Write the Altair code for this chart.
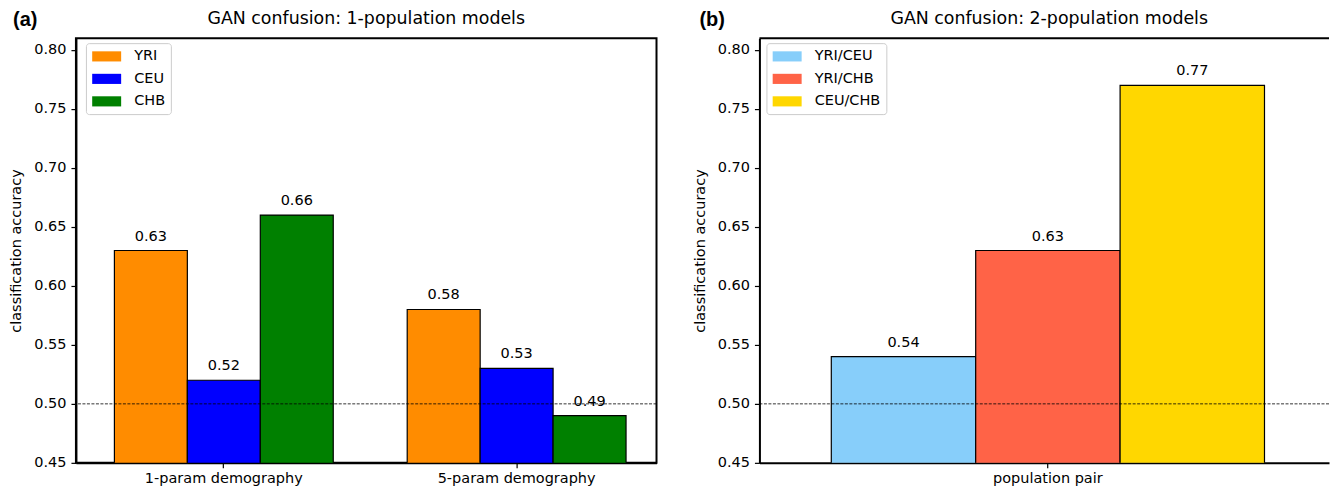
import altair as alt
import pandas as pd

FONT = "DejaVu Sans"

# ---- Panel (a): 1-population models ----
models = ["1-param demography", "5-param demography"]
pops = ["YRI", "CEU", "CHB"]
pop_colors = ["#FF8C00", "#0000FF", "#008000"]
acc_1param = [0.63, 0.52, 0.66]
acc_5param = [0.58, 0.53, 0.49]

# ---- Panel (b): 2-population models ----
pair_label = ["population pair"]
pairs = ["YRI/CEU", "YRI/CHB", "CEU/CHB"]
pair_colors = ["#87CEFA", "#FF6347", "#FFD700"]
acc_pairs = [0.54, 0.63, 0.77]

chance_level = [0.5]
y_domain = [0.45, 0.81]
y_ticks = [0.45, 0.50, 0.55, 0.60, 0.65, 0.70, 0.75, 0.80]

titles = ["GAN confusion: 1-population models", "GAN confusion: 2-population models"]
tags = ["(a)", "(b)"]

df_a = pd.DataFrame({
    "model": [models[0]] * 3 + [models[1]] * 3,
    "pop": pops * 2,
    "acc": acc_1param + acc_5param,
})
df_b = pd.DataFrame({
    "group": pair_label * 3,
    "pair": pairs,
    "acc": acc_pairs,
})
df_chance = pd.DataFrame({"chance": chance_level})

W_A, W_B, H = 581, 570, 425
FS = 14.5      # tick / label / legend font size
TFS = 17.4     # title font size

legend_shape = "M-2,-0.7H2V0.7H-2Z"


def make_legend(x):
    return alt.Legend(
        title=None, orient="none", legendX=x, legendY=5,
        symbolType=legend_shape, symbolSize=210, symbolOffset=7.5,
        symbolStrokeWidth=0, symbolOpacity=1,
        labelOffset=20, padding=5.75, rowPadding=7.5,
        labelFont=FONT, labelFontSize=FS, labelColor="black",
        strokeColor="#cccccc", fillColor="white", cornerRadius=3,
    )


def y_enc():
    return alt.Y(
        "acc:Q",
        scale=alt.Scale(domain=y_domain, zero=False, nice=False),
        axis=alt.Axis(values=y_ticks, format=".2f", title="classification accuracy", grid=False),
    )


def x_axis():
    return alt.Axis(title=None, labelAngle=0)


def head_layers(tag, tag_x, title, title_x):
    tag_l = alt.Chart(pd.DataFrame({"tag": [tag]})).mark_text(
        align="left", baseline="alphabetic", fontSize=20, fontWeight="bold",
        font="Liberation Sans", color="black",
    ).encode(x=alt.value(tag_x), y=alt.value(-12), text="tag:N")
    title_l = alt.Chart(pd.DataFrame({"title": [title]})).mark_text(
        align="center", baseline="alphabetic", fontSize=TFS, font=FONT, color="black",
    ).encode(x=alt.value(title_x), y=alt.value(-14), text="title:N")
    return [tag_l, title_l]


def chance_layer():
    return alt.Chart(df_chance).mark_rule(
        color="black", strokeDash=[3, 1.5], strokeWidth=0.8
    ).encode(y=alt.Y("chance:Q"))


# ---- Left chart ----
xa = alt.X("model:N", sort=models,
           scale=alt.Scale(domain=models, paddingInner=0.2526, paddingOuter=0.1177, align=0.558),
           axis=x_axis())
xoa = alt.XOffset("pop:N", sort=pops, scale=alt.Scale(domain=pops, paddingInner=0, paddingOuter=0))

bars_a = alt.Chart(df_a).mark_bar(stroke="black", strokeWidth=1.2, clip=True).encode(
    x=xa, xOffset=xoa, y=y_enc(),
    color=alt.Color("pop:N", sort=pops, scale=alt.Scale(domain=pops, range=pop_colors),
                    legend=make_legend(10)),
)
text_a = alt.Chart(df_a).mark_text(baseline="bottom", dy=-7, fontSize=FS, font=FONT, color="black").encode(
    x=xa, xOffset=xoa, y=y_enc(), text=alt.Text("acc:Q", format=".2f"),
)
left = alt.layer(bars_a, chance_layer(), text_a, *head_layers(tags[0], -63, titles[0], W_A / 2)).properties(
    width=W_A, height=H,
    view=alt.ViewBackground(stroke="black", strokeWidth=2),
)

# ---- Right chart ----
xb = alt.X("group:N", scale=alt.Scale(domain=pair_label, paddingInner=0, paddingOuter=0.1574, align=0.527),
           axis=x_axis())
xob = alt.XOffset("pair:N", sort=pairs, scale=alt.Scale(domain=pairs, paddingInner=0, paddingOuter=0))

bars_b = alt.Chart(df_b).mark_bar(stroke="black", strokeWidth=1.2, clip=True).encode(
    x=xb, xOffset=xob, y=y_enc(),
    color=alt.Color("pair:N", sort=pairs, scale=alt.Scale(domain=pairs, range=pair_colors),
                    legend=make_legend(7)),
)
text_b = alt.Chart(df_b).mark_text(baseline="bottom", dy=-7, fontSize=FS, font=FONT, color="black").encode(
    x=xb, xOffset=xob, y=y_enc(), text=alt.Text("acc:Q", format=".2f"),
)
top_spine = alt.Chart(pd.DataFrame({"k": [0]})).mark_rule(color="black", strokeWidth=2).encode(
    x=alt.value(0), x2=alt.value(W_B), y=alt.value(0)
)
right = alt.layer(bars_b, chance_layer(), text_b, top_spine, *head_layers(tags[1], -60, titles[1], 290)).properties(
    width=W_B, height=H,
    view=alt.ViewBackground(stroke="transparent", strokeWidth=0),
)

chart = alt.hconcat(left, right, spacing=33).resolve_scale(
    color="independent", x="independent", xOffset="independent"
).properties(
    padding={"left": 7, "top": 9, "right": 0, "bottom": 0},
).configure(font=FONT).configure_axis(
    labelFont=FONT, labelFontSize=FS, labelColor="black",
    titleFont=FONT, titleFontSize=FS, titleFontWeight="normal", titleColor="black",
    tickColor="black", tickWidth=1.2, tickSize=5, labelPadding=5,
    domainColor="black", domainWidth=2, titlePadding=10,
).configure_axisX(labelPadding=4)

chart.save("out.html", embed_options={"renderer": "svg", "actions": False})
